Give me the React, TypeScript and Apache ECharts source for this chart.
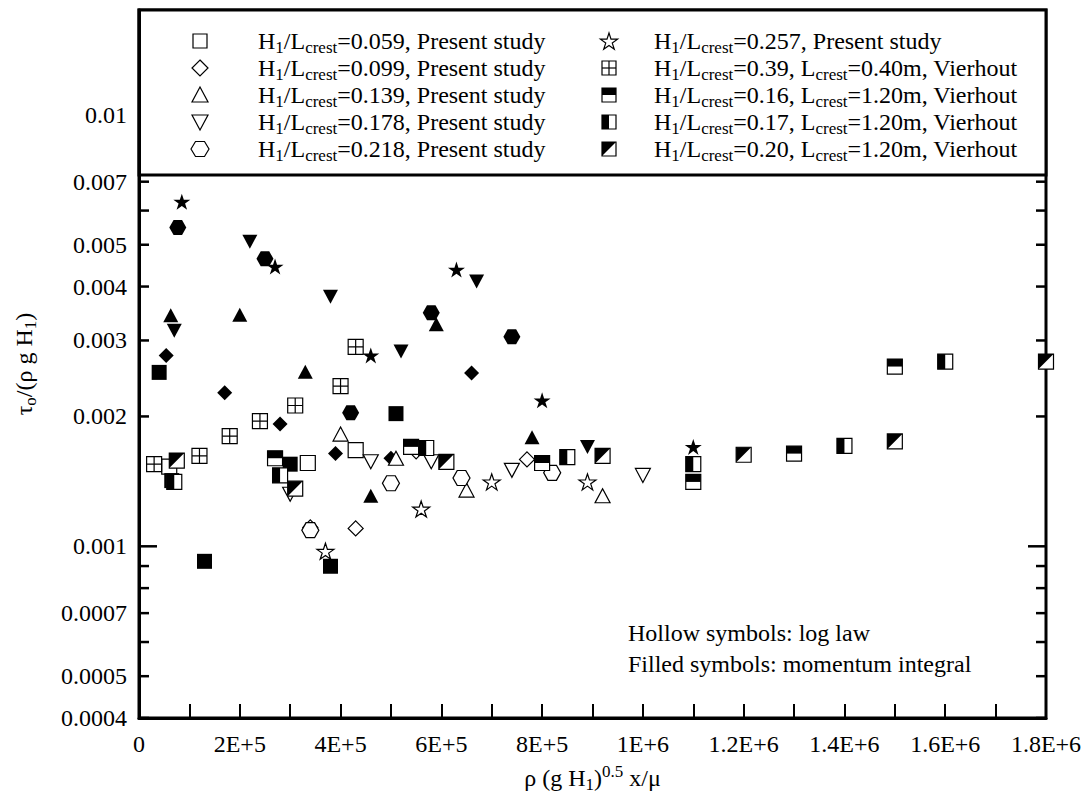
import React, { useEffect, useRef } from 'react';
import * as echarts from 'echarts';

const FONT = "'Liberation Serif', 'Times New Roman', Times, serif";

// Axis settings
const xMin = 0;
const xMax = 1.8e6;
const xTickStep = 1e5;
const yMin = 0.0004;
const yMax = 0.0175;
const yTickValues = [0.0004, 0.0005, 0.0006, 0.0007, 0.0008, 0.0009, 0.001, 0.002, 0.003, 0.004, 0.005, 0.006, 0.007];
const yMajorTicks = [0.001];
const yTickLabels = [0.0004, 0.0005, 0.0007, 0.001, 0.002, 0.003, 0.004, 0.005, 0.007, 0.01];

// Present study, H1/Lcrest = 0.059 (squares)
const sq059Log = [[6.0e4, 0.00153], [3.35e5, 0.00156], [4.3e5, 0.00167]];
const sq059Mom = [[4.0e4, 0.00253], [6.5e4, 0.00142], [1.3e5, 0.000923], [3.0e5, 0.00155], [3.8e5, 0.000899], [5.1e5, 0.00203]];
// 0.099 (diamonds)
const dia099Log = [[3.4e5, 0.001106], [4.3e5, 0.0011], [5.5e5, 0.00166], [7.7e5, 0.00159]];
const dia099Mom = [[5.4e4, 0.00277], [1.7e5, 0.00227], [2.8e5, 0.00192], [3.9e5, 0.00164], [5.0e5, 0.0016], [6.6e5, 0.00252]];
// 0.139 (triangles up)
const tri139Log = [[4.0e5, 0.00182], [5.1e5, 0.0016], [6.5e5, 0.00135], [9.2e5, 0.00131]];
const tri139Mom = [[6.3e4, 0.00343], [2.0e5, 0.00344], [3.3e5, 0.00254], [4.6e5, 0.00131], [5.9e5, 0.00327], [7.8e5, 0.00179]];
// 0.178 (triangles down)
const trd178Log = [[3.0e5, 0.00132], [4.6e5, 0.00157], [5.8e5, 0.00157], [7.4e5, 0.0015], [1.0e6, 0.00146]];
const trd178Mom = [[7.0e4, 0.00316], [2.2e5, 0.00508], [3.8e5, 0.00379], [5.2e5, 0.00283], [6.7e5, 0.00411], [8.9e5, 0.0017]];
// 0.218 (hexagons)
const hex218Log = [[3.4e5, 0.00109], [5.0e5, 0.0014], [6.4e5, 0.00144], [8.2e5, 0.00148]];
const hex218Mom = [[7.7e4, 0.00548], [2.5e5, 0.00464], [4.2e5, 0.00204], [5.8e5, 0.00348], [7.4e5, 0.00306]];
// 0.257 (stars)
const star257Log = [[3.7e5, 0.000974], [5.6e5, 0.00122], [7.0e5, 0.00141], [8.9e5, 0.00141]];
const star257Mom = [[8.5e4, 0.00629], [2.7e5, 0.00445], [4.6e5, 0.00277], [6.3e5, 0.00438], [8.0e5, 0.00218], [1.1e6, 0.0017]];
// Vierhout
const vh039 = [[3.0e4, 0.00155], [1.2e5, 0.00162], [1.8e5, 0.0018], [2.4e5, 0.00195], [3.1e5, 0.00212], [4.0e5, 0.00235], [4.3e5, 0.0029]];
const vh016 = [[2.7e5, 0.0016], [5.4e5, 0.0017], [8.0e5, 0.00156], [1.1e6, 0.00141], [1.3e6, 0.00164], [1.5e6, 0.00261]];
const vh017 = [[7.0e4, 0.00141], [2.8e5, 0.00146], [5.7e5, 0.00169], [8.5e5, 0.00161], [1.1e6, 0.00155], [1.4e6, 0.00171], [1.6e6, 0.00268]];
const vh020 = [[7.5e4, 0.00158], [3.1e5, 0.00136], [6.1e5, 0.00157], [9.2e5, 0.00162], [1.2e6, 0.00163], [1.5e6, 0.00175], [1.8e6, 0.00268]];

const legendItems = [
  { kind: 'sq', text: '{n|H}{s|1}{n|/L}{s|crest}{n|=0.059, Present study}' },
  { kind: 'dia', text: '{n|H}{s|1}{n|/L}{s|crest}{n|=0.099, Present study}' },
  { kind: 'tri', text: '{n|H}{s|1}{n|/L}{s|crest}{n|=0.139, Present study}' },
  { kind: 'trid', text: '{n|H}{s|1}{n|/L}{s|crest}{n|=0.178, Present study}' },
  { kind: 'hex', text: '{n|H}{s|1}{n|/L}{s|crest}{n|=0.218, Present study}' },
  { kind: 'star', text: '{n|H}{s|1}{n|/L}{s|crest}{n|=0.257, Present study}' },
  { kind: 'cross', text: '{n|H}{s|1}{n|/L}{s|crest}{n|=0.39, L}{s|crest}{n|=0.40m, Vierhout}' },
  { kind: 'top', text: '{n|H}{s|1}{n|/L}{s|crest}{n|=0.16, L}{s|crest}{n|=1.20m, Vierhout}' },
  { kind: 'left', text: '{n|H}{s|1}{n|/L}{s|crest}{n|=0.17, L}{s|crest}{n|=1.20m, Vierhout}' },
  { kind: 'diag', text: '{n|H}{s|1}{n|/L}{s|crest}{n|=0.20, L}{s|crest}{n|=1.20m, Vierhout}' },
];

const noteLines = ['Hollow symbols: log law', 'Filled symbols: momentum integral'];
const xTitle = '{n|ρ (g H}{s|1}{n|)}{p|0.5}{n| x/μ}';
const yTitle = '{n|τ}{s|o}{n|/(ρ g H}{s|1}{n|)}';

const richStyles = {
  n: { fontFamily: FONT, fontSize: 24, lineHeight: 30, color: '#000' },
  s: { fontFamily: FONT, fontSize: 17, lineHeight: 30, verticalAlign: 'bottom', color: '#000' },
  p: { fontFamily: FONT, fontSize: 17, lineHeight: 30, verticalAlign: 'top', color: '#000' },
};

function starPoints(cx: number, cy: number, R: number) {
  const r = R * 0.382;
  const pts: number[][] = [];
  for (let i = 0; i < 10; i++) {
    const a = -Math.PI / 2 + (i * Math.PI) / 5;
    const rr = i % 2 === 0 ? R : r;
    pts.push([cx + rr * Math.cos(a), cy + rr * Math.sin(a)]);
  }
  return pts;
}
const starSymbol =
  'path://' + starPoints(50, 50, 50).map((p, i) => (i ? 'L' : 'M') + p[0].toFixed(2) + ',' + p[1].toFixed(2)).join(' ') + ' Z';
const hexSymbol = 'path://M25,0 L75,0 L100,50 L75,100 L25,100 L0,50 Z';
const crossSymbol = 'path://M0,5 L10,5 M5,0 L5,10';
const diagSymbol = 'path://M0,0 L10,0 L0,10 Z';

const hollow = { color: '#fff', borderColor: '#000', borderWidth: 1.2, opacity: 1 };
const filled = { color: '#000', borderColor: '#000', borderWidth: 0, opacity: 1 };

function sc(data: number[][], symbol: string, size: any, itemStyle: any, extra: any = {}) {
  return { type: 'scatter', data, symbol, symbolSize: size, itemStyle, silent: true, ...extra };
}

function fmtX(v: number) {
  const k = Math.round(v / 1e5);
  if (k === 0) return '0';
  if (k % 2) return '';
  return k < 10 ? `${k}E+5` : `${k / 10}E+6`;
}

function legendIcon(kind: string, cx: number, cy: number): any[] {
  const s = 7;
  const hs = { fill: '#fff', stroke: '#000', lineWidth: 1.2 };
  const fs = { fill: '#000' };
  const box = { type: 'rect', shape: { x: cx - s, y: cy - s, width: 2 * s, height: 2 * s }, style: hs };
  switch (kind) {
    case 'sq':
      return [box];
    case 'dia':
      return [{ type: 'polygon', shape: { points: [[cx, cy - 8], [cx + 8, cy], [cx, cy + 8], [cx - 8, cy]] }, style: hs }];
    case 'tri':
      return [{ type: 'polygon', shape: { points: [[cx, cy - 8], [cx + 8, cy + 7], [cx - 8, cy + 7]] }, style: hs }];
    case 'trid':
      return [{ type: 'polygon', shape: { points: [[cx - 8, cy - 7], [cx + 8, cy - 7], [cx, cy + 8]] }, style: hs }];
    case 'hex':
      return [{ type: 'polygon', shape: { points: [[cx - 9, cy], [cx - 4.5, cy - 7.5], [cx + 4.5, cy - 7.5], [cx + 9, cy], [cx + 4.5, cy + 7.5], [cx - 4.5, cy + 7.5]] }, style: hs }];
    case 'star':
      return [{ type: 'polygon', shape: { points: starPoints(cx, cy + 1, 9) }, style: hs }];
    case 'cross':
      return [
        box,
        { type: 'line', shape: { x1: cx - s, y1: cy, x2: cx + s, y2: cy }, style: { stroke: '#000', lineWidth: 1.2 } },
        { type: 'line', shape: { x1: cx, y1: cy - s, x2: cx, y2: cy + s }, style: { stroke: '#000', lineWidth: 1.2 } },
      ];
    case 'top':
      return [box, { type: 'rect', shape: { x: cx - s, y: cy - s, width: 2 * s, height: s }, style: fs }];
    case 'left':
      return [box, { type: 'rect', shape: { x: cx - s, y: cy - s, width: s, height: 2 * s }, style: fs }];
    case 'diag':
      return [box, { type: 'polygon', shape: { points: [[cx - s, cy - s], [cx + s, cy - s], [cx - s, cy + s]] }, style: fs }];
  }
  return [];
}

export default function App() {
  const ref = useRef<HTMLDivElement>(null);
  useEffect(() => {
    document.body.style.margin = '0';
    const chart = echarts.init(ref.current!, null, { renderer: 'svg' });

    const gridLeft = 139, gridRight = 45, gridTop = 10, gridBottom = 83;
    const plotW = 1091 - gridLeft - gridRight;

    const legendEls: any[] = [
      {
        type: 'rect',
        shape: { x: gridLeft, y: gridTop, width: plotW, height: 165 },
        style: { fill: '#fff', stroke: '#000', lineWidth: 3 },
      },
    ];
    legendItems.forEach((it, i) => {
      const col = i < 5 ? 0 : 1;
      const row = i % 5;
      const cy = 41 + row * 27;
      const symX = col === 0 ? 200 : 609;
      const txtX = col === 0 ? 258 : 654;
      legendEls.push(...legendIcon(it.kind, symX, cy));
      legendEls.push({
        type: 'text',
        x: txtX,
        y: cy,
        style: { text: it.text, rich: richStyles, align: 'left', verticalAlign: 'middle' },
      });
    });
    noteLines.forEach((t, i) => {
      legendEls.push({
        type: 'text',
        x: 628,
        y: 633 + i * 31,
        style: { text: t, fontFamily: FONT, fontSize: 24, fill: '#000', align: 'left', verticalAlign: 'middle' },
      });
    });

    const option: any = {
      animation: false,
      backgroundColor: '#fff',
      grid: { left: gridLeft, right: gridRight, top: gridTop, bottom: gridBottom, show: true, borderColor: '#000', borderWidth: 3, backgroundColor: 'transparent' },
      xAxis: {
        type: 'value',
        min: xMin,
        max: xMax,
        interval: xTickStep,
        axisLine: { show: true, lineStyle: { color: '#000', width: 3 } },
        axisTick: { show: true, inside: true, length: 14, lineStyle: { color: '#000', width: 2 } },
        axisLabel: { formatter: fmtX, fontFamily: FONT, fontSize: 24, color: '#000', margin: 14 },
        splitLine: { show: false },
        name: xTitle,
        nameLocation: 'middle',
        nameGap: 45,
        nameTextStyle: { rich: richStyles },
      },
      yAxis: {
        type: 'log',
        min: yMin,
        max: yMax,
        axisLine: { show: true, lineStyle: { color: '#000', width: 3 } },
        axisTick: { show: false },
        axisLabel: { show: false },
        splitLine: { show: false },
        minorTick: { show: false },
        name: yTitle,
        nameLocation: 'middle',
        nameGap: 100,
        nameTextStyle: { rich: richStyles },
      },
      graphic: { elements: [{ type: 'group', z: 100, children: legendEls }] },
      series: [
        {
          type: 'custom',
          clip: false,
          silent: true,
          data: yTickValues.map((v) => [0, v]),
          encode: { x: 0, y: 1 },
          renderItem: (params: any, api: any) => {
            const v = api.value(1);
            const pl = api.coord([xMin, v]);
            const pr = api.coord([xMax, v]);
            const len = yMajorTicks.includes(v) ? 18 : 10;
            return {
              type: 'group',
              children: [
                { type: 'line', shape: { x1: pl[0], y1: pl[1], x2: pl[0] + len, y2: pl[1] }, style: { stroke: '#000', lineWidth: 2.5 } },
                { type: 'line', shape: { x1: pr[0] - len, y1: pr[1], x2: pr[0], y2: pr[1] }, style: { stroke: '#000', lineWidth: 2.5 } },
              ],
            };
          },
        },
        {
          type: 'custom',
          clip: false,
          silent: true,
          data: yTickLabels.map((v) => [0, v]),
          encode: { x: 0, y: 1 },
          renderItem: (params: any, api: any) => {
            const v = api.value(1);
            const pl = api.coord([xMin, v]);
            return {
              type: 'text',
              x: pl[0] - 12,
              y: pl[1],
              style: { text: String(v), fontFamily: FONT, fontSize: 24, fill: '#000', align: 'right', verticalAlign: 'middle' },
            };
          },
        },
        sc(sq059Log, 'rect', 15, hollow),
        sc(sq059Mom, 'rect', 15, filled),
        sc(dia099Log, 'diamond', 15, hollow),
        sc(dia099Mom, 'diamond', 15, filled),
        sc(tri139Log, 'triangle', [15, 14], hollow),
        sc(tri139Mom, 'triangle', [15, 14], filled),
        sc(trd178Log, 'triangle', [15, 14], hollow, { symbolRotate: 180 }),
        sc(trd178Mom, 'triangle', [15, 14], filled, { symbolRotate: 180 }),
        sc(hex218Log, hexSymbol, [17, 15], hollow),
        sc(hex218Mom, hexSymbol, [17, 15], filled),
        sc(star257Log, starSymbol, [17, 16], hollow),
        sc(star257Mom, starSymbol, [17, 16], filled),
        sc(vh039, 'rect', 15, hollow),
        sc(vh039, crossSymbol, 15, { color: 'none', borderColor: '#000', borderWidth: 1.2, opacity: 1 }),
        sc(vh016, 'rect', 15, hollow),
        sc(vh016, 'rect', [15, 7.5], filled, { symbolOffset: [0, -3.75] }),
        sc(vh017, 'rect', 15, hollow),
        sc(vh017, 'rect', [7.5, 15], filled, { symbolOffset: [-3.75, 0] }),
        sc(vh020, 'rect', 15, hollow),
        sc(vh020, diagSymbol, 15, filled),
      ],
    };
    chart.setOption(option);
    return () => chart.dispose();
  }, []);
  return <div ref={ref} style={{ width: 1091, height: 801 }} />;
}
